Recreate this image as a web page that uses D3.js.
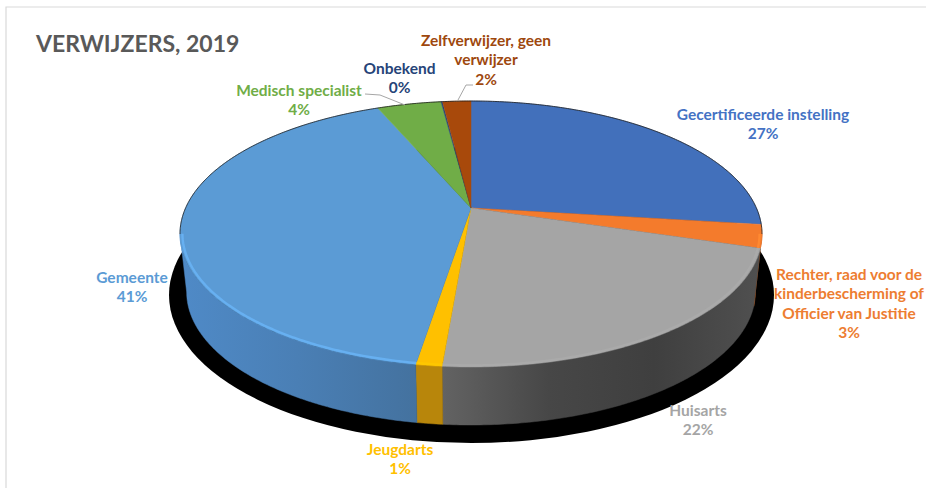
<!DOCTYPE html>
<html><head><meta charset="utf-8">
<script src="https://cdn.jsdelivr.net/npm/d3@7/dist/d3.min.js"></script>
<style>html,body{margin:0;padding:0;background:#fff}svg{display:block}text{font-family:Lato,"Open Sans",sans-serif;font-weight:700}</style>
</head><body><svg id="c" width="926" height="488"></svg>
<script>
const title = "VERWIJZERS, 2019";
const categories = ["Gecertificeerde instelling","Rechter, raad voor de kinderbescherming of Officier van Justitie","Huisarts","Jeugdarts","Gemeente","Medisch specialist","Onbekend","Zelfverwijzer, geen verwijzer"];
const values = [27, 2.8, 21.5, 1.2, 41.2, 4.3, 0.1, 1.9];
const colors = ["#4270bb","#f47b2c","#a5a5a5","#ffc000","#5b9bd5","#70ad47","#264478","#a8490b"];
const labelColors = ["#4472c4","#ed7d31","#a5a5a5","#ffc000","#5b9bd5","#70ad47","#264478","#9e480e"];
const bevel = [0.3,0.3,0.08,0.1,0.35,0.3,0.3,0.3];
const wallStops = [["#35598f","#35598f"],["#b5581c","#b5581c"],["#636363","#474747","#3f3f3f","#505050"],["#b8860b","#b8860b"],["#4f8ac7","#4a7fb5","#44729f"],["#4f7a32","#4f7a32"],["#1a2f54","#1a2f54"],["#6e2f08","#6e2f08"]];
const labelLines = [["Gecertificeerde instelling"],["Rechter, raad voor de","kinderbescherming of","Officier van Justitie"],["Huisarts"],["Jeugdarts"],["Gemeente"],["Medisch specialist"],["Onbekend"],["Zelfverwijzer, geen","verwijzer"]];

// layout (not data)
const labelPos = [[763,119.5],[849,279.5],[698,415.5],[400,454.5],[132,282.5],[299,95.5],[399.5,73.5],[486,45.5]];
const lineGap = 19.5, fontSize = 15.5;
const cx = 471, apexY = 208, persp = -0.1955, rxc = 285.4, ryc = 127.9, depth = 58, wallScale = 0.977;

const svg = d3.select("#c");
const defs = svg.append("defs");
const xS = d3.scaleLinear().domain([-1,1]).range([cx-rxc,cx+rxc]);
const yS = d3.scaleLinear().domain([0,1]).range([apexY,apexY+ryc]);
const proj = (t,f=1) => { const u=Math.sin(t)*f, v=-Math.cos(t)*f, w=1+persp*v; return [xS(u/w), yS(v/w)]; };
const projB = t => { const [x,y]=proj(t); return [cx+(x-cx)*wallScale, y+depth]; };
const samples = (a,b) => { const n=Math.max(2,Math.ceil(Math.abs(b-a)/0.01)); return d3.range(n+1).map(i=>a+(b-a)*i/n); };
const line = d3.line();
const arcs = d3.pie().sort(null).value(d=>d)(values);
const total = d3.sum(values);
const pct = d3.format(".0%");

// frame
svg.append("path").attr("d","M926,7H6V488").attr("fill","none").attr("stroke","#d9d9d9").attr("stroke-width",1.2);

// black shadow
svg.append("ellipse").attr("cx",471.5).attr("cy",295).attr("rx",302.5).attr("ry",148).attr("fill","#000");

const tEast = Math.acos(persp), tWest = 2*Math.PI-tEast;

// side wall
arcs.forEach((a,i)=>{
  const s=Math.max(a.startAngle,tEast), e=Math.min(a.endAngle,tWest);
  if(e<=s) return;
  const id="w"+i, st=wallStops[i];
  const g=defs.append("linearGradient").attr("id",id).attr("gradientUnits","userSpaceOnUse")
    .attr("x1",proj(e)[0]).attr("x2",proj(s)[0]).attr("y1",0).attr("y2",0);
  st.forEach((c,j)=>g.append("stop").attr("offset",j/(st.length-1)).attr("stop-color",c));
  const ts=samples(s,e);
  svg.append("path").attr("d",line(ts.map(t=>proj(t)).concat(ts.slice().reverse().map(projB)))+"Z")
    .attr("fill",`url(#${id})`).attr("stroke",`url(#${id})`).attr("stroke-width",0.5);
});

// top face
arcs.forEach((a,i)=>{
  const pts=[proj(0,0)].concat(samples(a.startAngle,a.endAngle).map(t=>proj(t)));
  svg.append("path").attr("d",line(pts)+"Z").attr("fill",colors[i]).attr("stroke",colors[i]).attr("stroke-width",0.5);
});

// bevel highlight on the front rim
arcs.forEach((a,i)=>{
  const s=Math.max(a.startAngle,tEast), e=Math.min(a.endAngle,tWest);
  if(e<=s) return;
  svg.append("path").attr("d",line(samples(s,e).map(t=>proj(t,0.992)))).attr("fill","none")
    .attr("stroke",d3.color(colors[i]).brighter(bevel[i])).attr("stroke-width",2.4);
});

// dark back rim
svg.append("path").attr("d",line(samples(tWest-2*Math.PI,tEast).map(t=>proj(t)))).attr("fill","none")
  .attr("stroke","#1c1c1c").attr("stroke-width",0.8);

// leader lines
const leaders=[[[365,94],[380,95],[405,105]],[[473,85],[466,85],[458,100]]];
leaders.forEach(l=>svg.append("path").attr("d",line(l)).attr("fill","none").attr("stroke","#a6a6a6").attr("stroke-width",1));

// labels
categories.forEach((c,i)=>{
  const [x,y]=labelPos[i];
  const t=svg.append("text").attr("text-anchor","middle").attr("font-size",fontSize).attr("fill",labelColors[i]);
  labelLines[i].concat([pct(values[i]/total)]).forEach((s,j)=>t.append("tspan").attr("x",x).attr("y",y+j*lineGap).text(s));
});

svg.append("text").attr("x",36).attr("y",52).attr("font-size",23).attr("fill","#595959").text(title);
</script></body></html>
